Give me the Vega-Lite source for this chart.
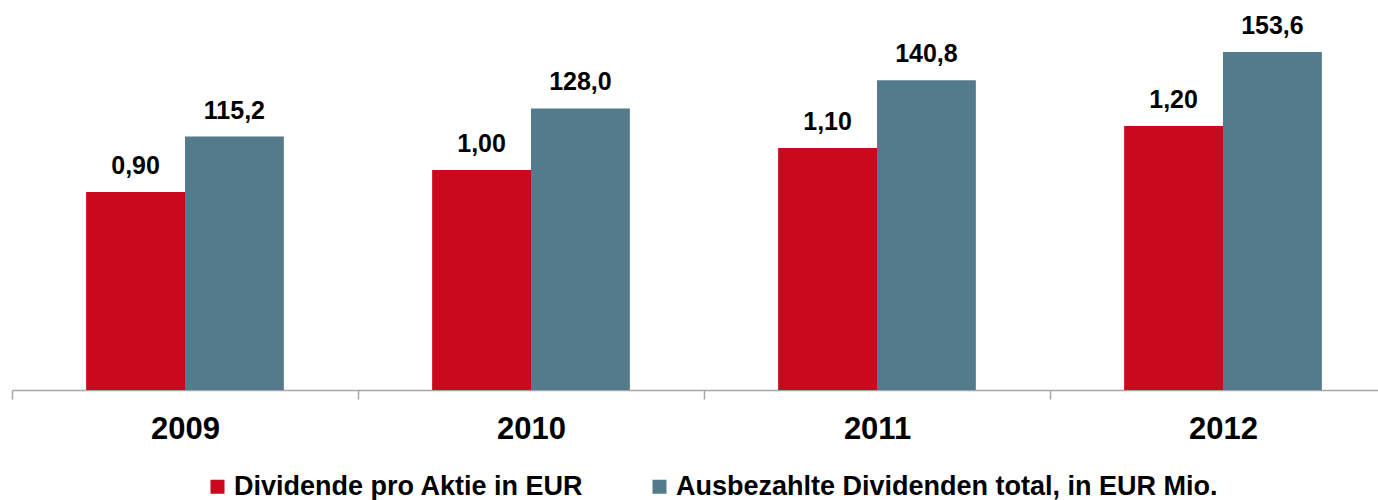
{
  "$schema": "https://vega.github.io/schema/vega-lite/v6.json",
  "width": 1366,
  "height": 390,
  "autosize": {"type": "none"},
  "padding": {"left": 12, "top": 0, "right": 0, "bottom": 110},
  "config": {
    "view": {"stroke": null},
    "font": "Liberation Sans",
    "locale": {"number": {"decimal": ",", "thousands": ".", "grouping": [3], "currency": ["", " €"]}}
  },
  "data": {
    "values": [
      {"year": "2009", "series": "Dividende pro Aktie in EUR", "value": 0.90},
      {"year": "2010", "series": "Dividende pro Aktie in EUR", "value": 1.00},
      {"year": "2011", "series": "Dividende pro Aktie in EUR", "value": 1.10},
      {"year": "2012", "series": "Dividende pro Aktie in EUR", "value": 1.20},
      {"year": "2009", "series": "Ausbezahlte Dividenden total, in EUR Mio.", "value": 115.2},
      {"year": "2010", "series": "Ausbezahlte Dividenden total, in EUR Mio.", "value": 128.0},
      {"year": "2011", "series": "Ausbezahlte Dividenden total, in EUR Mio.", "value": 140.8},
      {"year": "2012", "series": "Ausbezahlte Dividenden total, in EUR Mio.", "value": 153.6}
    ]
  },
  "encoding": {
    "x": {
      "field": "year",
      "type": "ordinal",
      "scale": {"range": [0, 1384], "paddingInner": 0, "paddingOuter": 0},
      "axis": {
        "title": null,
        "labelAngle": 0,
        "labelFont": "Liberation Sans",
        "labelFontSize": 31,
        "labelFontWeight": "bold",
        "labelColor": "#000000",
        "domainColor": "#A6A6A6",
        "domainWidth": 1.5,
        "tickColor": "#A6A6A6",
        "tickWidth": 1.5,
        "tickSize": 9,
        "tickBand": "extent",
        "labelPadding": 15
      }
    },
    "xOffset": {
      "field": "series",
      "type": "nominal",
      "scale": {
        "domain": ["Dividende pro Aktie in EUR", "Ausbezahlte Dividenden total, in EUR Mio."],
        "paddingInner": 0,
        "paddingOuter": 0.75
      }
    }
  },
  "layer": [
    {
      "transform": [{"filter": "datum.series === 'Dividende pro Aktie in EUR'"}],
      "encoding": {
        "y": {"field": "value", "type": "quantitative", "scale": {"domain": [0, 1.7727], "nice": false, "zero": true}, "axis": null}
      },
      "layer": [
        {
          "mark": {"type": "bar"},
          "encoding": {
            "color": {
              "field": "series",
              "type": "nominal",
              "scale": {
                "domain": ["Dividende pro Aktie in EUR", "Ausbezahlte Dividenden total, in EUR Mio."],
                "range": ["#C8091E", "#537B8B"]
              },
              "legend": {
                "title": null, "orient": "none", "legendX": 192, "legendY": 473,
                "direction": "horizontal", "symbolType": "square", "symbolSize": 196,
                "symbolStrokeWidth": 0, "labelFontSize": 27, "labelFont": "Liberation Sans",
                "labelFontWeight": "bold", "labelColor": "#000000", "labelOffset": 3,
                "columnPadding": 62, "padding": 0, "labelLimit": 0
              }
            }
          }
        },
        {
          "mark": {"type": "text", "dy": -18, "baseline": "alphabetic", "fontSize": 25, "fontWeight": "bold", "font": "Liberation Sans", "color": "#000000"},
          "encoding": {"text": {"field": "value", "type": "quantitative", "format": ".2f"}}
        }
      ]
    },
    {
      "transform": [{"filter": "datum.series === 'Ausbezahlte Dividenden total, in EUR Mio.'"}],
      "encoding": {
        "y": {"field": "value", "type": "quantitative", "scale": {"domain": [0, 177.27], "nice": false, "zero": true}, "axis": null}
      },
      "layer": [
        {
          "mark": {"type": "bar"},
          "encoding": {
            "color": {
              "field": "series",
              "type": "nominal",
              "scale": {
                "domain": ["Dividende pro Aktie in EUR", "Ausbezahlte Dividenden total, in EUR Mio."],
                "range": ["#C8091E", "#537B8B"]
              },
              "legend": {
                "title": null, "orient": "none", "legendX": 192, "legendY": 473,
                "direction": "horizontal", "symbolType": "square", "symbolSize": 196,
                "symbolStrokeWidth": 0, "labelFontSize": 27, "labelFont": "Liberation Sans",
                "labelFontWeight": "bold", "labelColor": "#000000", "labelOffset": 3,
                "columnPadding": 62, "padding": 0, "labelLimit": 0
              }
            }
          }
        },
        {
          "mark": {"type": "text", "dy": -18, "baseline": "alphabetic", "fontSize": 25, "fontWeight": "bold", "font": "Liberation Sans", "color": "#000000"},
          "encoding": {"text": {"field": "value", "type": "quantitative", "format": ".1f"}}
        }
      ]
    }
  ],
  "resolve": {"scale": {"y": "independent"}}
}
